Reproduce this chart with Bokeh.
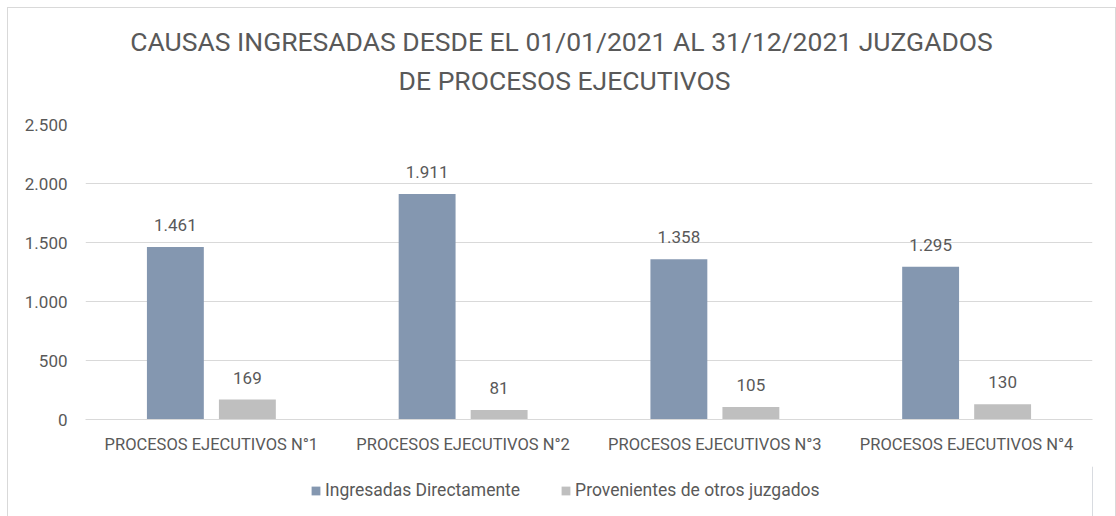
from bokeh.plotting import figure
from bokeh.layouts import column
from bokeh.models import (ColumnDataSource, FactorRange, Range1d, LabelSet, Legend, LegendItem,
                          CustomJSTickFormatter, FixedTicker, Label)
from bokeh.core.properties import value
from bokeh.transform import dodge
from bokeh.embed import file_html
from bokeh.resources import INLINE

categories = ["PROCESOS EJECUTIVOS N°1", "PROCESOS EJECUTIVOS N°2",
              "PROCESOS EJECUTIVOS N°3", "PROCESOS EJECUTIVOS N°4"]
ingresadas = [1461, 1911, 1358, 1295]
provenientes = [169, 81, 105, 130]
series_names = ["Ingresadas Directamente", "Provenientes de otros juzgados"]
y_ticks = [0, 500, 1000, 1500, 2000, 2500]
title_lines = ["CAUSAS INGRESADAS DESDE EL 01/01/2021 AL 31/12/2021 JUZGADOS",
               "DE PROCESOS EJECUTIVOS"]

FONT = "Roboto"
TXT = "#595959"
BLUE = "#8497B0"
GRAY = "#BFBFBF"
GRID = "#D9D9D9"
W = 1107
BL, BR = 77, 23

def fmt(v):
    return f"{v:,}".replace(",", ".")

src = ColumnDataSource(dict(
    cat=categories,
    ing=ingresadas,
    prov=provenientes,
    ing_lbl=[fmt(v) for v in ingresadas],
    prov_lbl=[fmt(v) for v in provenientes],
))

# ---- title strip (pixel coordinates) ----
TH = 100
pt = figure(width=W, height=TH, output_backend="svg", toolbar_location=None,
            x_axis_location=None, y_axis_location=None,
            min_border_left=BL, min_border_right=BR, min_border_top=0, min_border_bottom=0,
            x_range=Range1d(BL, W - BR), y_range=Range1d(0, TH))
pt.outline_line_color = None
pt.grid.grid_line_color = None
for txt, cx, by in ((title_lines[0], 553, 67), (title_lines[1], 556, 28)):
    pt.add_layout(Label(x=cx, y=by, text=txt, text_align="center", text_baseline="alphabetic",
                        text_font=FONT, text_font_size="26.5px", text_color=TXT))

# ---- main chart ----
p = figure(x_range=FactorRange(factors=categories), y_range=Range1d(0, 2500),
           width=W, height=358, output_backend="svg", toolbar_location=None,
           min_border_left=BL, min_border_right=BR, min_border_top=16, min_border_bottom=47)
p.outline_line_color = None

r1 = p.vbar(x=dodge("cat", -0.143, range=p.x_range), top="ing", width=0.226, source=src,
            color=BLUE, line_color=None)
r2 = p.vbar(x=dodge("cat", 0.143, range=p.x_range), top="prov", width=0.226, source=src,
            color=GRAY, line_color=None)

for col, off in (("ing", -0.143), ("prov", 0.143)):
    ls = LabelSet(x=dodge("cat", off, range=p.x_range), y=col, text=col + "_lbl", source=src,
                  text_align="center", text_baseline="bottom", y_offset=16,
                  text_font_size=value("17px"), text_color=value(TXT), text_font=value(FONT))
    p.add_layout(ls)

p.yaxis.ticker = FixedTicker(ticks=y_ticks)
p.yaxis.formatter = CustomJSTickFormatter(code="return tick.toString().replace(/\\B(?=(\\d{3})+(?!\\d))/g, '.');")
p.yaxis.axis_line_color = None
p.yaxis.major_tick_line_color = None
p.yaxis.minor_tick_line_color = None
p.yaxis.major_label_standoff = 12
p.yaxis.major_label_text_font = FONT
p.yaxis.major_label_text_font_size = "17px"
p.yaxis.major_label_text_color = TXT

p.xaxis.axis_line_color = GRID
p.xaxis.major_tick_line_color = None
p.xaxis.minor_tick_line_color = None
p.xaxis.major_label_standoff = 9
p.xaxis.major_label_text_font = FONT
p.xaxis.major_label_text_font_size = "16.5px"
p.xaxis.major_label_text_color = TXT

p.xgrid.grid_line_color = None
p.ygrid.grid_line_color = GRID
p.ygrid.grid_line_width = 1

# ---- legend strip ----
leg_src = ColumnDataSource(dict(x=[5], top=[5]))  # kept outside the visible range
pl = figure(width=W, height=50, output_backend="svg", toolbar_location=None,
            x_axis_location=None, y_axis_location=None,
            min_border_left=BL, min_border_right=BR, min_border_top=0, min_border_bottom=0,
            x_range=Range1d(0, 1), y_range=Range1d(0, 1))
pl.outline_line_color = None
pl.grid.grid_line_color = None
lr1 = pl.vbar(x="x", top="top", width=0.1, source=leg_src, color=BLUE, line_color=None)
lr2 = pl.vbar(x="x", top="top", width=0.1, source=leg_src, color=GRAY, line_color=None)
legend = Legend(items=[LegendItem(label=series_names[0], renderers=[lr1]),
                       LegendItem(label=series_names[1], renderers=[lr2])],
                orientation="horizontal", location=(225, 16),
                label_text_font=FONT, label_text_font_size="17.5px", label_text_color=TXT,
                glyph_width=11, glyph_height=11, spacing=40, label_standoff=4,
                border_line_color=None, background_fill_alpha=0, margin=0, padding=4)
pl.add_layout(legend)

layout = column(pt, p, pl, spacing=0)
layout.styles = {"margin-left": "7px", "margin-top": "7px",
                 "border-top": "1px solid #D9D9D9", "border-left": "1px solid #D9D9D9",
                 "border-right": "1px solid #D9D9D9"}

open("out.html", "w").write(file_html(layout, INLINE))
